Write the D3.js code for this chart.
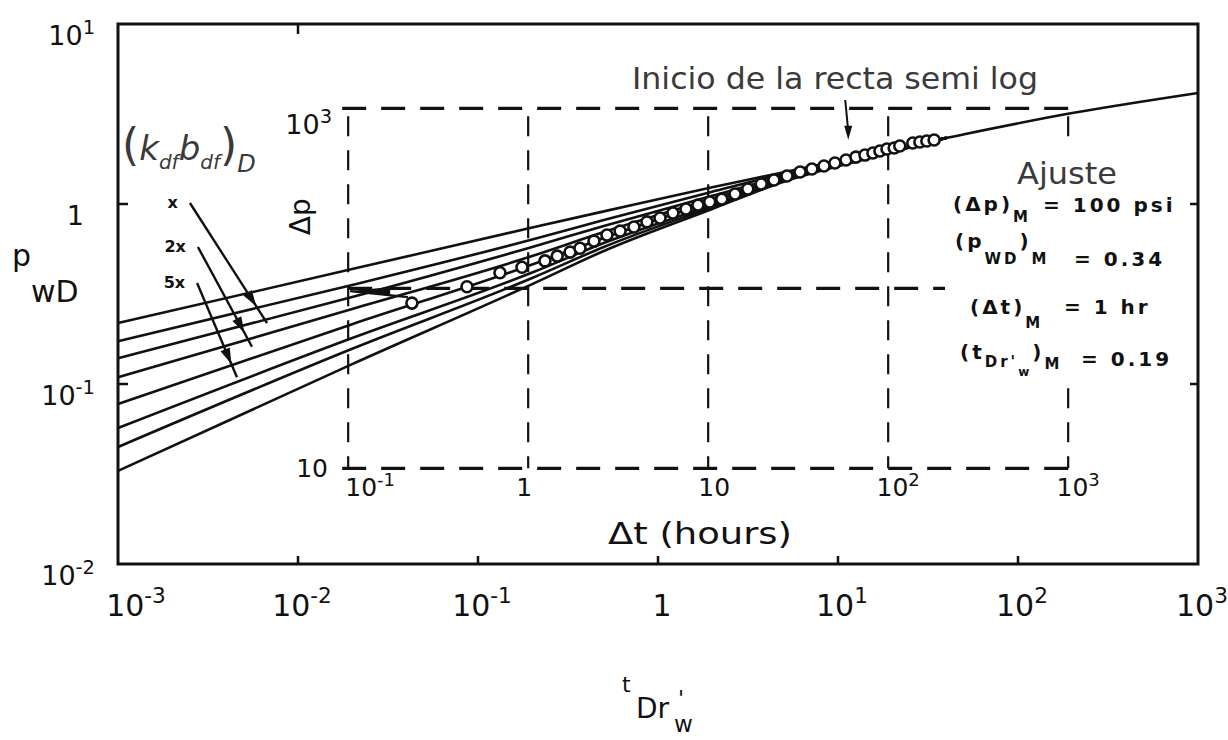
<!DOCTYPE html>
<html>
<head>
<meta charset="utf-8">
<script src="https://cdn.jsdelivr.net/npm/d3@7"></script>
<style>
  body { margin: 0; background: #fff; }
  svg text { font-family: "DejaVu Sans", sans-serif; }
</style>
</head>
<body>
<svg id="chart" width="1228" height="740"></svg>
<script>
// ---- Type-curve family: p_wD versus t_Dr'w (log-log) ----
const tValues = [0.001, 0.02, 0.2, 0.5, 2, 5, 15, 40, 200, 1000];
const curve1 = [0.218, 0.435, 0.74, 0.91, 1.24, 1.5, 1.9, 2.33, 3.2, 4.14];
const curve2 = [0.173, 0.355, 0.635, 0.815, 1.17, 1.47, 1.87, 2.33];
const curve3 = [0.139, 0.304, 0.577, 0.755, 1.11, 1.43, 1.86, 2.33];
const curve4 = [0.109, 0.261, 0.514, 0.699, 1.07, 1.39, 1.85, 2.33];
const curve5 = [0.0774, 0.215, 0.461, 0.648, 1.03, 1.38, 1.84, 2.33];
const curve6 = [0.057, 0.18, 0.416, 0.607, 0.987, 1.36, 1.82, 2.33];
const curve7 = [0.0447, 0.157, 0.388, 0.577, 0.962, 1.34, 1.81, 2.33];
const curve8 = [0.0329, 0.129, 0.359, 0.548, 0.938, 1.33, 1.80, 2.33];
const curves = [curve1, curve2, curve3, curve4, curve5, curve6, curve7, curve8];

// ---- Field data: build-up test, Δt (hours) and Δp (psi) ----
const dataDt = [0.226, 0.457, 0.697, 0.924, 1.24, 1.45, 1.71, 1.94, 2.32, 2.74, 3.24, 3.87,
  4.57, 5.4, 6.37, 7.53, 8.78, 10.2, 11.9, 14.1, 16.6, 19.7, 23.2, 27.4, 32.4, 37.7, 44.0,
  50.6, 58.3, 66.2, 74.3, 82.3, 90.0, 98.5, 108, 116, 137, 150, 164, 180];
const dataDp = [82.8, 102, 122, 131, 142, 151, 159, 167, 183, 198, 208, 219, 234, 246, 262,
  276, 290, 302, 313, 334, 356, 380, 400, 421, 443, 460, 478, 497, 516, 536, 550, 565, 579,
  594, 602, 618, 642, 650, 658, 667];

// ---- Match point ----
const matchDp = 100;      // psi
const matchPwd = 0.34;
const matchDt = 1;        // hr
const matchTd = 0.19;

// ---- Tick exponents ----
const xTickExp = [-3, -2, -1, 0, 1, 2, 3];
const yTickExp = [1, 0, -1, -2];
const dtTickExp = [-1, 0, 1, 2, 3];

const svg = d3.select("#chart");
const x = d3.scaleLog().domain([1e-3, 1e3]).range([118, 1198]);
const y = d3.scaleLog().domain([1e-2, 1e1]).range([564, 24]);

// overlay (field-data) scales, tied to the main scales through the match point
const xo = d3.scaleLog().domain([0.1, 1000])
  .range([x(0.1 * matchTd / matchDt), x(1000 * matchTd / matchDt)]);
const yo = d3.scaleLog().domain([10, 1000])
  .range([y(10 * matchPwd / matchDp), y(1000 * matchPwd / matchDp)]);

const ink = "#111";
const soft = "#3a3a3a";

// ---- Overlay dashed grid (field-data axes) ----
const dashG = svg.append("g").attr("stroke", ink).attr("fill", "none");
[1000, 10].forEach(v => {
  dashG.append("line")
    .attr("x1", xo(0.1) - 6).attr("x2", xo(1000) + 4)
    .attr("y1", yo(v)).attr("y2", yo(v))
    .attr("stroke-width", 3.2).attr("stroke-dasharray", "24 15");
});
dashG.append("line")
  .attr("x1", xo(0.1)).attr("x2", xo(240))
  .attr("y1", yo(matchDp)).attr("y2", yo(matchDp))
  .attr("stroke-width", 3.2).attr("stroke-dasharray", "24 15");
dtTickExp.forEach(e => {
  dashG.append("line")
    .attr("x1", xo(10 ** e)).attr("x2", xo(10 ** e))
    .attr("y1", yo(1000) + 8).attr("y2", yo(10))
    .attr("stroke-width", 2.2).attr("stroke-dasharray", "20 14");
});

// ---- Type curves ----
const line = d3.line().x(d => x(d[0])).y(d => y(d[1])).curve(d3.curveMonotoneX);
svg.append("g").selectAll("path").data(curves).join("path")
  .attr("d", c => line(c.map((v, i) => [tValues[i], v])))
  .attr("fill", "none").attr("stroke", ink).attr("stroke-width", 2.6);

// ---- Field data circles ----
svg.append("g").selectAll("circle").data(dataDt.map((t, i) => [t, dataDp[i]])).join("circle")
  .attr("cx", d => xo(d[0])).attr("cy", d => yo(d[1])).attr("r", 5.5)
  .attr("fill", "#fff").attr("stroke", ink).attr("stroke-width", 2.6);

// early-time arrow pointing back from the first data point
{
  const x0 = xo(dataDt[0]) - 4, y0 = yo(dataDp[0]) - 6;
  const xt = xo(0.1) + 2, yt = y0 - 6;
  svg.append("line").attr("x1", x0).attr("y1", y0).attr("x2", xt).attr("y2", yt)
    .attr("stroke", ink).attr("stroke-width", 2.2);
  svg.append("path")
    .attr("d", `M${xt},${yt} L${xt + 40},${yt - 4} L${xt + 40},${yt + 4} Z`)
    .attr("fill", ink);
}

// ---- Main frame ----
svg.append("rect").attr("x", 118).attr("y", 24).attr("width", 1080).attr("height", 540)
  .attr("fill", "none").attr("stroke", ink).attr("stroke-width", 3);

// inward ticks
const tickG = svg.append("g").attr("stroke", ink).attr("stroke-width", 2.5);
xTickExp.slice(1, -1).forEach(e => {
  tickG.append("line").attr("x1", x(10 ** e)).attr("x2", x(10 ** e))
    .attr("y1", 564).attr("y2", 556);
});
tickG.append("line").attr("x1", x(0.01)).attr("x2", x(0.01)).attr("y1", 24).attr("y2", 34);
yTickExp.slice(1, -1).forEach(e => {
  tickG.append("line").attr("x1", 118).attr("x2", 128).attr("y1", y(10 ** e)).attr("y2", y(10 ** e));
  tickG.append("line").attr("x1", 1198).attr("x2", 1188).attr("y1", y(10 ** e)).attr("y2", y(10 ** e));
});

// ---- Tick labels ----
// exponent 0 prints "1"; with plainTen, exponent 1 prints "10"
function addPow(g, e, px, py, anchor, size, plainTen) {
  const t = g.append("text").attr("x", px).attr("y", py).attr("text-anchor", anchor)
    .attr("font-size", size).attr("fill", ink);
  if (e === 0) { t.text("1"); return t; }
  if (e === 1 && plainTen) { t.text("10"); return t; }
  t.append("tspan").text("10");
  t.append("tspan").attr("dy", -size * 0.42).attr("font-size", size * 0.72)
    .text(String(e));
  return t;
}
const lab = svg.append("g");
xTickExp.forEach((e, i) => {
  addPow(lab, e, x(10 ** e) + (i === 0 ? 18 : 4), 616, "middle", 30, false);
});
yTickExp.forEach(e => {
  addPow(lab, e, e === 0 ? 84 : 95, y(10 ** e) + 21, "end", 27, false);
});

// overlay tick labels
dtTickExp.forEach(e => {
  addPow(lab, e, xo(10 ** e) + (e < 0 ? 22 : e > 1 ? 10 : e === 0 ? -4 : 6), 496, "middle", 25, true);
});
addPow(lab, 3, 332, yo(1000) + 26, "end", 27, true);
addPow(lab, 1, 328, yo(10) + 9, "end", 25, true);

// Δp rotated label and Δt axis title
svg.append("text").attr("transform", `translate(${xo(0.1) - 38},${yo(250)}) rotate(-90)`)
  .attr("text-anchor", "middle").attr("font-size", 28).attr("fill", ink).text("Δp");
svg.append("text").attr("x", xo(9) - 92).attr("y", 544)
  .attr("font-size", 30).attr("textLength", 184).attr("lengthAdjust", "spacingAndGlyphs")
  .attr("fill", ink).text("Δt (hours)");

// ---- Main axis titles ----
const yt = svg.append("text").attr("fill", ink).attr("font-size", 30);
yt.append("tspan").attr("x", 12).attr("y", 266).text("p");
yt.append("tspan").attr("x", 31).attr("y", 302).text("wD");

const xt = svg.append("text").attr("fill", ink).attr("font-size", 28);
xt.append("tspan").attr("x", 622).attr("y", 692).attr("font-size", 22).text("t");
xt.append("tspan").attr("x", 636).attr("y", 718).text("Dr");
xt.append("tspan").attr("x", 678).attr("y", 706).attr("font-size", 22).text("'");
xt.append("tspan").attr("x", 674).attr("y", 732).attr("font-size", 23).text("w");

// ---- Curve parameter legend ----
const legT = [0.00251, 0.00278, 0.00275];
const legP0 = [1.013, 0.577, 0.364];
const legT1 = [0.00673, 0.00555, 0.00458];
const legP1 = [0.218, 0.161, 0.109];
const legLabels = ["x", "2x", "5x"];
svg.append("text").attr("x", 122).attr("y", 160).attr("fill", soft)
  .attr("font-family", "Liberation Serif, serif").attr("font-style", "italic").attr("font-size", 34)
  .call(t => {
    t.append("tspan").attr("font-style", "normal").attr("font-size", 44).text("(");
    t.append("tspan").text("k");
    t.append("tspan").attr("dy", 9).attr("font-size", 20).text("df");
    t.append("tspan").attr("dy", -9).text("b");
    t.append("tspan").attr("dy", 9).attr("font-size", 20).text("df");
    t.append("tspan").attr("dy", -9).attr("font-style", "normal").attr("font-size", 44).text(")");
    t.append("tspan").attr("dy", 12).attr("font-size", 24).text("D");
  });
legLabels.forEach((s, i) => {
  const x0 = x(legT[i]), y0 = y(legP0[i]), x1 = x(legT1[i]), y1 = y(legP1[i]);
  svg.append("text").attr("x", x0 - 12).attr("y", y0 + 5).attr("text-anchor", "end")
    .attr("font-family", "Liberation Mono, monospace").attr("font-weight", "bold")
    .attr("font-size", 16).attr("fill", ink).text(s);
  svg.append("line").attr("x1", x0).attr("y1", y0).attr("x2", x1).attr("y2", y1)
    .attr("stroke", ink).attr("stroke-width", 2.4);
  const ang = Math.atan2(y1 - y0, x1 - x0) * 180 / Math.PI;
  const hx = x0 + (x1 - x0) * 0.86, hy = y0 + (y1 - y0) * 0.86;
  svg.append("path").attr("d", "M0,0 L-16,-5 L-16,5 Z")
    .attr("transform", `translate(${hx},${hy}) rotate(${ang})`).attr("fill", ink);
});

// ---- Annotation: start of the semilog straight line ----
svg.append("text").attr("x", 632).attr("y", 89).attr("font-family", "Liberation Sans, Arial, sans-serif")
  .attr("font-size", 30).attr("textLength", 406).attr("lengthAdjust", "spacingAndGlyphs")
  .attr("fill", soft).text("Inicio de la recta semi log");
{
  const ax = xo(60), ay = yo(560) - 14;
  svg.append("line").attr("x1", ax - 3).attr("y1", 100).attr("x2", ax).attr("y2", ay - 8)
    .attr("stroke", ink).attr("stroke-width", 2);
  svg.append("path").attr("d", `M${ax},${ay} L${ax - 4},${ay - 14} L${ax + 4},${ay - 14} Z`).attr("fill", ink);
}

// ---- Match results ----
svg.append("rect").attr("x", 945).attr("y", 150).attr("width", 245).attr("height", 238).attr("fill", "#fff");
svg.append("text").attr("x", 1017).attr("y", 184).attr("font-family", "Liberation Sans, Arial, sans-serif")
  .attr("font-size", 30).attr("textLength", 100).attr("lengthAdjust", "spacingAndGlyphs")
  .attr("fill", soft).text("Ajuste");
const mono = g => g.attr("font-family", "Liberation Mono, monospace").attr("font-weight", "bold")
  .attr("font-size", 20).attr("letter-spacing", 3).attr("fill", ink);
svg.append("text").call(mono).call(t => {
  t.append("tspan").attr("x", 953).attr("y", 211).text("(Δp)");
  t.append("tspan").attr("dy", 11).attr("font-size", 15).text("M");
  t.append("tspan").attr("x", 1043).attr("y", 212).text("= " + matchDp + " psi");
});
svg.append("text").call(mono).call(t => {
  t.append("tspan").attr("x", 955).attr("y", 248).text("(p");
  t.append("tspan").attr("dy", 16).attr("font-size", 15).text("WD");
  t.append("tspan").attr("dy", -16).text(")");
  t.append("tspan").attr("dy", 16).attr("font-size", 15).text("M");
  t.append("tspan").attr("x", 1074).attr("y", 266).text("= " + matchPwd.toFixed(2));
});
svg.append("text").call(mono).call(t => {
  t.append("tspan").attr("x", 970).attr("y", 314).text("(Δt)");
  t.append("tspan").attr("dy", 14).attr("font-size", 15).text("M");
  t.append("tspan").attr("x", 1064).attr("y", 314).text("= " + matchDt + " hr");
});
svg.append("text").call(mono).call(t => {
  t.append("tspan").attr("x", 960).attr("y", 359).text("(t");
  t.append("tspan").attr("dy", 8).attr("font-size", 15).text("Dr'");
  t.append("tspan").attr("dy", 9).attr("font-size", 12).text("w");
  t.append("tspan").attr("dy", -17).text(")");
  t.append("tspan").attr("dy", 10).attr("font-size", 15).text("M");
  t.append("tspan").attr("x", 1081).attr("y", 366).text("= " + matchTd.toFixed(2));
});
</script>
</body>
</html>
